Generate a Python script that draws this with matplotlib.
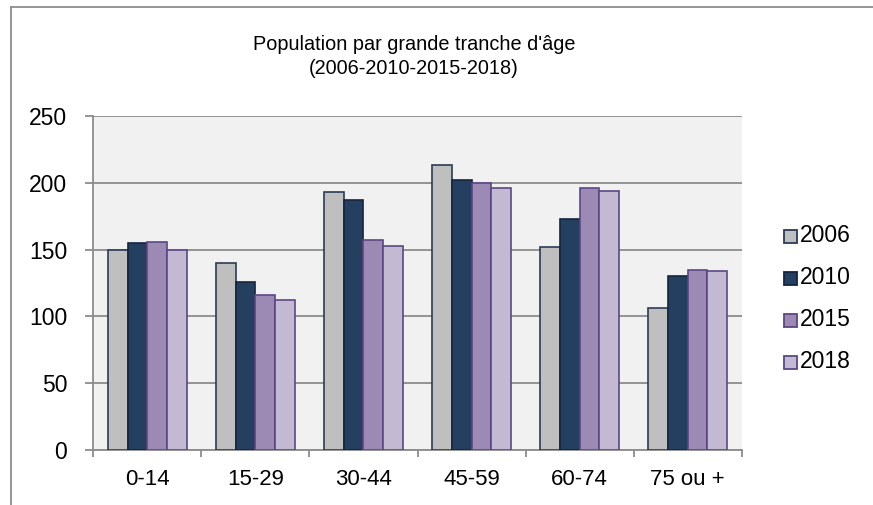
import matplotlib
matplotlib.use("Agg")
import matplotlib.pyplot as plt
import numpy as np
from matplotlib.patches import Rectangle
from matplotlib.lines import Line2D
from matplotlib import font_manager

categories = ["0-14", "15-29", "30-44", "45-59", "60-74", "75 ou +"]
years = ["2006", "2010", "2015", "2018"]
v2006 = [150, 140, 193, 213, 152, 106]
v2010 = [155, 126, 187, 202, 173, 130]
v2015 = [156, 116, 157, 200, 196, 135]
v2018 = [150, 112, 153, 196, 194, 134]
series = [v2006, v2010, v2015, v2018]
yticks = [0, 50, 100, 150, 200, 250]

fills = ["#bfbfbf", "#243f60", "#9d8ab4", "#c4b9d2"]
edges = ["#2a3c55", "#142540", "#5c4785", "#5c4785"]

plt.rcParams['font.family'] = ['Liberation Sans', 'DejaVu Sans']
names = {f.name for f in font_manager.fontManager.ttflist}
if 'Liberation Sans Narrow' in names:
    title_family = ['Liberation Sans Narrow', 'DejaVu Sans']
    title_size = 16.5
else:
    title_family = ['Liberation Sans', 'DejaVu Sans']
    title_size = 14.3

W, H = 873, 505
fig = plt.figure(figsize=(W / 100, H / 100), dpi=100)
ax = fig.add_axes([93.3 / W, 1 - 450 / H, (741.7 - 93.3) / W, (450 - 116) / H])
ax.set_facecolor("#f1f1f1")

n = len(years)
bw = 1 / (n + 1.5)
x = np.arange(len(categories))
for i, (vals, fc, ec) in enumerate(zip(series, fills, edges)):
    ax.bar(x + (i - (n - 1) / 2) * bw, vals, width=bw, color=fc, edgecolor=ec,
           linewidth=1.2, zorder=3)

ax.set_xlim(-0.5, len(categories) - 0.5)
ax.set_ylim(0, 250)
ax.set_yticks(yticks)
ax.yaxis.grid(True, color="#8c8c8c", linewidth=1.3, zorder=1)
ax.set_axisbelow(True)
ax.set_xticks(x)
ax.set_xticklabels(categories)
ax.set_xticks(np.arange(len(categories) + 1) - 0.5, minor=True)
ax.tick_params(axis="x", which="major", length=0, labelsize=16, pad=14)
ax.tick_params(axis="x", which="minor", length=5, color="#8c8c8c", width=1.3)
ax.tick_params(axis="y", length=5.8, color="#8c8c8c", width=1.3, labelsize=16.5, pad=13)
for s in ["top", "right"]:
    ax.spines[s].set_visible(False)
for s in ["left", "bottom"]:
    ax.spines[s].set_color("#8c8c8c")
    ax.spines[s].set_linewidth(1.3)

fig.text(414 / W, 1 - 45 / H, "Population par grande tranche d'âge", ha="center",
         va="center", fontsize=title_size, family=title_family)
fig.text(414 / W, 1 - 69 / H, "(2006-2010-2015-2018)", ha="center",
         va="center", fontsize=title_size, family=title_family)

# legend
for i, (yr, fc, ec) in enumerate(zip(years, fills, edges)):
    yc = 236 + i * 42
    fig.add_artist(Rectangle((784 / W, 1 - (yc + 6.5) / H), 13 / W, 13 / H,
                             facecolor=fc, edgecolor=ec, linewidth=1.3,
                             transform=fig.transFigure))
    fig.text(800 / W, 1 - yc / H, yr, ha="left", va="center", fontsize=16.5)

# outer frame
fig.add_artist(Line2D([10.5 / W, 10.5 / W], [0, 1 - 7 / H], color="#8c8c8c",
                      linewidth=1.3, transform=fig.transFigure))
fig.add_artist(Line2D([10.5 / W, 1], [1 - 7 / H, 1 - 7 / H], color="#8c8c8c",
                      linewidth=1.3, transform=fig.transFigure))

fig.savefig("out.png", dpi=100)
